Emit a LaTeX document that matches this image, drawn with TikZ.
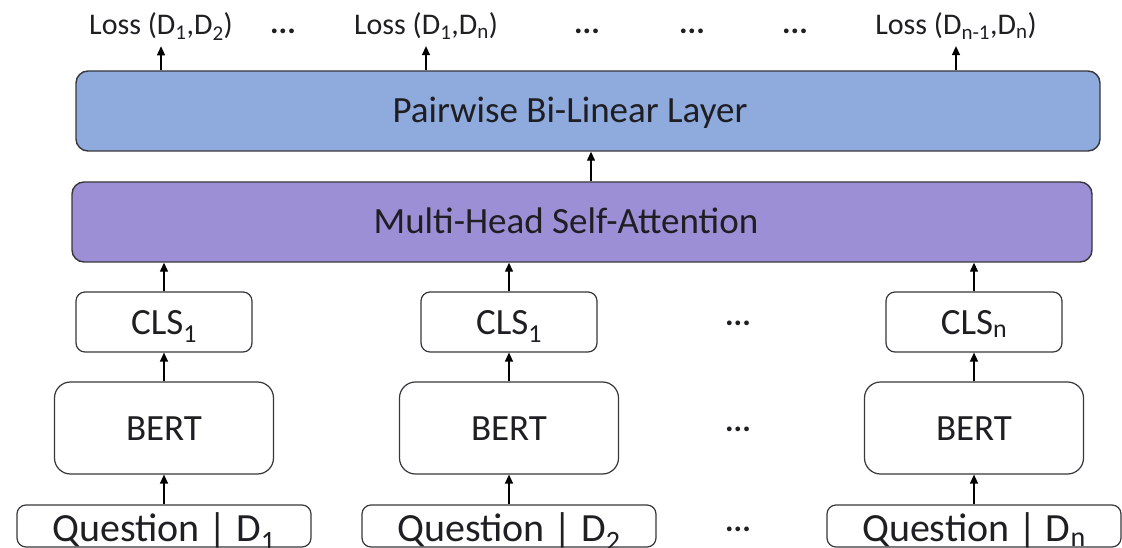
\documentclass[tikz,border=0pt]{standalone}
\usepackage{fontspec}
\setmainfont{Carlito}
\usetikzlibrary{arrows.meta}
\definecolor{pwblue}{RGB}{143,170,220}
\definecolor{mhpurple}{RGB}{156,143,214}
\definecolor{edgegray}{RGB}{55,55,60}
\definecolor{inkgray}{RGB}{30,30,35}

\begin{document}
\begin{tikzpicture}[x=1pt, y=-1pt,
	layer/.style={ draw=edgegray, line width=1.4pt, rounded corners=12pt, minimum height=80pt, inner sep=0pt, text=inkgray, text height=24pt, text depth=0pt, font=\fontsize{37}{42}\selectfont },
	box/.style={ draw=edgegray, line width=1.2pt, fill=white, inner sep=0pt, text=inkgray, text height=24pt, text depth=0pt, font=\fontsize{37}{42}\selectfont },
	clsbox/.style={ box, rounded corners=9pt, minimum width=176pt, minimum height=60pt },
	bertbox/.style={ box, rounded corners=16pt, minimum width=219pt, minimum height=92pt },
	qbox/.style={ box, rounded corners=9pt, minimum width=294pt, minimum height=42pt, text height=36pt, text depth=6pt, font=\fontsize{40}{46}\selectfont },
	loss/.style={ anchor=base, inner sep=6pt, text=inkgray, font=\fontsize{30}{34}\selectfont },
	dots/.style={ anchor=base, inner sep=0pt, text=inkgray, font=\fontsize{32}{36}\selectfont\bfseries },
	arr/.style={ line width=1.3pt, -{Triangle[length=9pt,width=8pt]} }
]
\useasboundingbox (0,0) rectangle (1122,548);

% layers
\node at (588,111) (pw) [layer,fill=pwblue,minimum width=1024pt] {\hspace*{-36pt}Pairwise Bi-Linear Layer};
\node at (582,222) (mh) [layer,fill=mhpurple,minimum width=1020pt] {\hspace*{-32pt}Multi-Head Self-Attention};

% pair losses
\node at (161,35) (lossa) [loss] {Loss (D\textsubscript{1},D\textsubscript{2})};
\node at (426,35) (lossb) [loss] {Loss (D\textsubscript{1},D\textsubscript{n})};
\node at (956,35) (lossc) [loss] {Loss (D\textsubscript{n-1},D\textsubscript{n})};
\foreach \x in {283,587,692,795} \node at (\x,34) (dt\x) [dots] {...};
\foreach \l in {a,b,c} \draw[arr] (pw.north -| loss\l.south) -- (loss\l.south);

% encoder columns
\foreach \n/\x/\c/\d in {a/164/1/1, b/509/1/2, c/974/n/n} {
	\node at (\x,322) (cls\n) [clsbox] {CLS\textsubscript{\c}};
	\node at (\x,428) (bert\n) [bertbox] {BERT};
	\node at (\x,526) (q\n) [qbox] {Question | D\textsubscript{\d}};
}
\foreach \y/\r in {325/a,431/b,531/c} \node at (738,\y) (gap\r) [dots] {...};

\foreach \n in {a,b,c} {
	\draw[arr] (q\n) -- (bert\n);
	\draw[arr] (bert\n) -- (cls\n);
	\draw[arr] (cls\n) -- (cls\n |- mh.south);
}
\draw[arr] ([xshift=9pt]mh.north) -- ([xshift=9pt]mh.north |- pw.south);

\end{tikzpicture}
\end{document}
